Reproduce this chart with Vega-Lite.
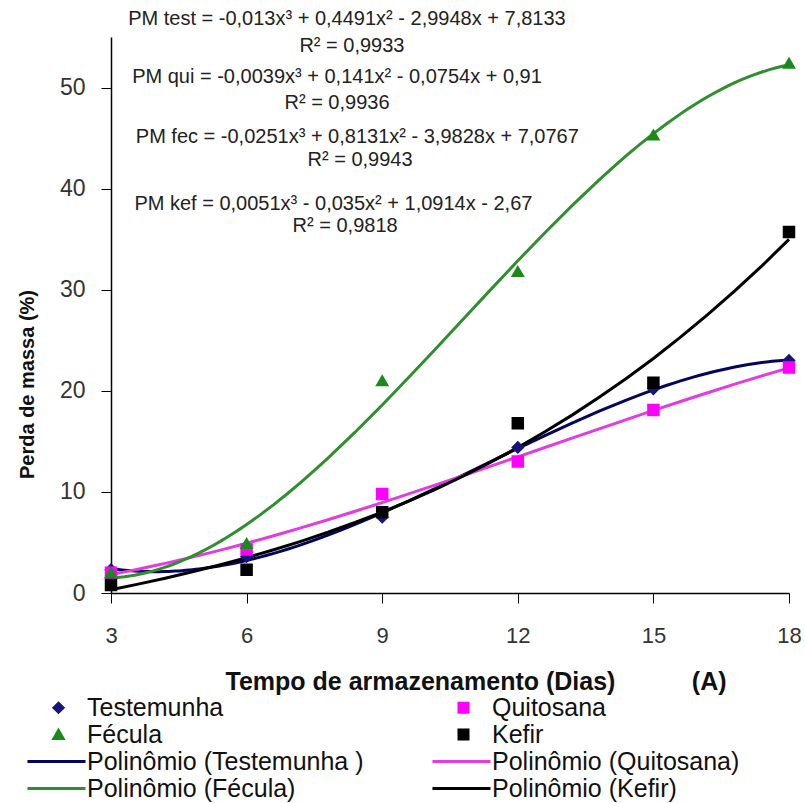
{
  "$schema": "https://vega.github.io/schema/vega-lite/v6.json",
  "width": 678,
  "height": 556,
  "autosize": {"type": "none"},
  "padding": {"left": 111, "top": 37, "right": 16, "bottom": 210},
  "background": "white",
  "config": {"view": {"stroke": null}, "font": "Liberation Sans"},
  "datasets": {
    "pontos": [
      {"dia": 3, "perda": 2.3, "serie": "Testemunha", "tendencia": "Polinômio (Testemunha )"},
      {"dia": 6, "perda": 3.6, "serie": "Testemunha", "tendencia": "Polinômio (Testemunha )"},
      {"dia": 9, "perda": 7.5, "serie": "Testemunha", "tendencia": "Polinômio (Testemunha )"},
      {"dia": 12, "perda": 14.4, "serie": "Testemunha", "tendencia": "Polinômio (Testemunha )"},
      {"dia": 15, "perda": 20.2, "serie": "Testemunha", "tendencia": "Polinômio (Testemunha )"},
      {"dia": 18, "perda": 23.0, "serie": "Testemunha", "tendencia": "Polinômio (Testemunha )"},
      {"dia": 3, "perda": 2.0, "serie": "Quitosana", "tendencia": "Polinômio (Quitosana)"},
      {"dia": 6, "perda": 4.3, "serie": "Quitosana", "tendencia": "Polinômio (Quitosana)"},
      {"dia": 9, "perda": 9.8, "serie": "Quitosana", "tendencia": "Polinômio (Quitosana)"},
      {"dia": 12, "perda": 13.0, "serie": "Quitosana", "tendencia": "Polinômio (Quitosana)"},
      {"dia": 15, "perda": 18.1, "serie": "Quitosana", "tendencia": "Polinômio (Quitosana)"},
      {"dia": 18, "perda": 22.3, "serie": "Quitosana", "tendencia": "Polinômio (Quitosana)"},
      {"dia": 3, "perda": 2.0, "serie": "Fécula", "tendencia": "Polinômio (Fécula)"},
      {"dia": 6, "perda": 4.9, "serie": "Fécula", "tendencia": "Polinômio (Fécula)"},
      {"dia": 9, "perda": 21.0, "serie": "Fécula", "tendencia": "Polinômio (Fécula)"},
      {"dia": 12, "perda": 31.8, "serie": "Fécula", "tendencia": "Polinômio (Fécula)"},
      {"dia": 15, "perda": 45.3, "serie": "Fécula", "tendencia": "Polinômio (Fécula)"},
      {"dia": 18, "perda": 52.4, "serie": "Fécula", "tendencia": "Polinômio (Fécula)"},
      {"dia": 3, "perda": 0.8, "serie": "Kefir", "tendencia": "Polinômio (Kefir)"},
      {"dia": 6, "perda": 2.3, "serie": "Kefir", "tendencia": "Polinômio (Kefir)"},
      {"dia": 9, "perda": 8.0, "serie": "Kefir", "tendencia": "Polinômio (Kefir)"},
      {"dia": 12, "perda": 16.8, "serie": "Kefir", "tendencia": "Polinômio (Kefir)"},
      {"dia": 15, "perda": 20.8, "serie": "Kefir", "tendencia": "Polinômio (Kefir)"},
      {"dia": 18, "perda": 35.7, "serie": "Kefir", "tendencia": "Polinômio (Kefir)"}
    ],
    "equacoes": [
      {"dia": 8.22, "perda": 56.8, "texto": "PM test = -0,013x³ + 0,4491x² - 2,9948x + 7,8133"},
      {"dia": 8.33, "perda": 54.15, "texto": "R² = 0,9933"},
      {"dia": 8.0, "perda": 51.0, "texto": "PM qui = -0,0039x³ + 0,141x² - 0,0754x + 0,91"},
      {"dia": 8.0, "perda": 48.5, "texto": "R² = 0,9936"},
      {"dia": 8.45, "perda": 45.06, "texto": "PM  fec = -0,0251x³ + 0,8131x² - 3,9828x + 7,0767"},
      {"dia": 8.51, "perda": 42.8, "texto": "R² = 0,9943"},
      {"dia": 7.92, "perda": 38.5, "texto": "PM kef = 0,0051x³ - 0,035x² + 1,0914x - 2,67"},
      {"dia": 8.18, "perda": 36.3, "texto": "R² = 0,9818"}
    ]
  },
  "layer": [
    {
      "data": {"name": "pontos"},
      "transform": [
        {"regression": "perda", "on": "dia", "method": "poly", "order": 3, "groupby": ["tendencia"], "extent": [3, 18]},
        {"calculate": "datum.tendencia", "as": "serie"}
      ],
      "mark": {"type": "line", "strokeWidth": 3},
      "encoding": {
        "x": {
          "field": "dia", "type": "quantitative",
          "scale": {"domain": [3, 18], "nice": false, "zero": false},
          "axis": {
            "values": [3, 6, 9, 12, 15, 18],
            "title": "Tempo de armazenamento (Dias)\u00a0\u00a0\u00a0\u00a0\u00a0\u00a0\u00a0\u00a0\u00a0\u00a0\u00a0(A)",
            "grid": false, "domainColor": "#000", "domainWidth": 1.5, "tickColor": "#000", "tickSize": 10,
            "labelColor": "#333", "labelFontSize": 22, "labelPadding": 22, "labelFlush": false,
            "titleFontSize": 25, "titleFontWeight": "bold", "titleColor": "#111",
            "titleAlign": "left", "titleAnchor": "start", "titleX": 114, "titleY": 88, "titleBaseline": "middle"
          }
        },
        "y": {
          "field": "perda", "type": "quantitative",
          "scale": {"domain": [0, 55], "nice": false, "zero": true},
          "axis": {
            "values": [0, 10, 20, 30, 40, 50],
            "title": "Perda de massa (%)",
            "grid": false, "domainColor": "#000", "domainWidth": 1.5, "tickColor": "#000", "tickSize": 10,
            "labelColor": "#333", "labelFontSize": 23, "labelPadding": 16,
            "titleFontSize": 20, "titleFontWeight": "bold", "titleColor": "#111",
            "titleAngle": -90, "titleAlign": "center", "titleBaseline": "middle", "titleX": -84, "titleY": 347
          }
        },
        "color": {
          "field": "serie", "type": "nominal",
          "scale": {
            "domain": ["Testemunha", "Quitosana", "Fécula", "Kefir", "Polinômio (Testemunha )", "Polinômio (Quitosana)", "Polinômio (Fécula)", "Polinômio (Kefir)"],
            "range": ["#16167a", "#ff00ff", "#1a8a1a", "#000000", "#05055e", "#e33be3", "#2f8f2f", "#000000"]
          },
          "legend": {
            "title": null, "orient": "none", "legendX": -65, "legendY": 658, "columns": 2, "direction": "horizontal",
            "columnPadding": 62, "rowPadding": 1, "padding": 0, "labelFontSize": 25, "labelColor": "#111",
            "labelLimit": 400, "labelOffset": 16, "symbolStrokeWidth": 3, "symbolSize": 81, "symbolOpacity": 1
          }
        }
      }
    },
    {
      "data": {"name": "pontos"},
      "mark": {"type": "point", "filled": true, "opacity": 1, "strokeWidth": 2, "size": 110},
      "encoding": {
        "x": {"field": "dia", "type": "quantitative"},
        "y": {"field": "perda", "type": "quantitative"},
        "color": {"field": "serie", "type": "nominal"},
        "stroke": {
          "field": "serie", "type": "nominal",
          "scale": {
            "domain": ["Testemunha", "Quitosana", "Fécula", "Kefir", "Polinômio (Testemunha )", "Polinômio (Quitosana)", "Polinômio (Fécula)", "Polinômio (Kefir)"],
            "range": ["#16167a", "#ff00ff", "#1a8a1a", "#000000", "#05055e", "#e33be3", "#2f8f2f", "#000000"]
          }
        },
        "shape": {
          "field": "serie", "type": "nominal",
          "scale": {
            "domain": ["Testemunha", "Quitosana", "Fécula", "Kefir", "Polinômio (Testemunha )", "Polinômio (Quitosana)", "Polinômio (Fécula)", "Polinômio (Kefir)"],
            "range": ["diamond", "square", "triangle-up", "square", "M-6.9,0L6.0,0", "M-6.9,0L6.0,0", "M-6.9,0L6.0,0", "M-6.9,0L6.0,0"]
          }
        }
      }
    },
    {
      "data": {"name": "equacoes"},
      "mark": {"type": "text", "fontSize": 20, "color": "#222", "align": "center", "baseline": "middle"},
      "encoding": {
        "x": {"field": "dia", "type": "quantitative"},
        "y": {"field": "perda", "type": "quantitative"},
        "text": {"field": "texto"}
      }
    }
  ]
}
